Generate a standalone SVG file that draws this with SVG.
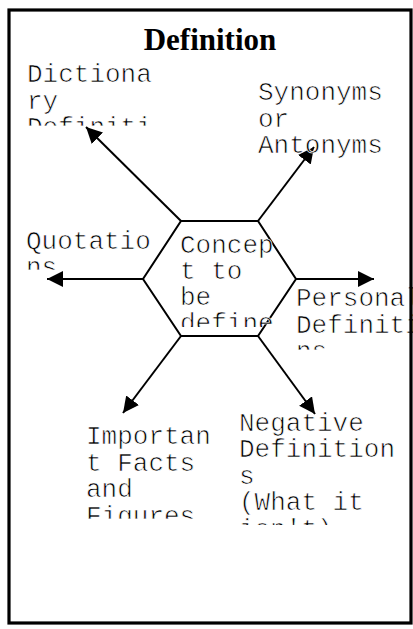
<svg xmlns="http://www.w3.org/2000/svg" width="413" height="629" viewBox="0 0 413 629">
<style>
.t{font-family:"Liberation Mono","Courier New",monospace;font-size:26px;fill:#000;stroke:#fff;stroke-width:0.7}
.ttl{font-family:"Liberation Serif","Times New Roman",serif;font-size:31px;font-weight:bold;fill:#000}
.c{stroke:#000;stroke-width:2;fill:none}
</style>
<defs>
<marker id="ah" markerUnits="userSpaceOnUse" markerWidth="17" markerHeight="17" refX="16" refY="8" orient="auto">
<path d="M0,0 L16,8 L0,16 z" fill="#000"/>
</marker>
<clipPath id="cDict"><rect x="0" y="55" width="413" height="70.5"/></clipPath>
<clipPath id="cQuot"><rect x="0" y="220" width="413" height="49.5"/></clipPath>
<clipPath id="cConc"><rect x="0" y="225" width="413" height="102"/></clipPath>
<clipPath id="cPers"><rect x="0" y="280" width="413" height="69.5"/></clipPath>
<clipPath id="cImp"><rect x="0" y="415" width="413" height="103.5"/></clipPath>
<clipPath id="cNeg"><rect x="0" y="405" width="413" height="120"/></clipPath>
</defs>
<rect x="0" y="0" width="413" height="629" fill="#fff"/>
<g id="connectors">
<line class="c" x1="181" y1="221" x2="86" y2="127" marker-end="url(#ah)"/>
<line class="c" x1="258" y1="221" x2="314" y2="147" marker-end="url(#ah)"/>
<line class="c" x1="143" y1="279" x2="47" y2="279" marker-end="url(#ah)"/>
<line class="c" x1="296" y1="279" x2="374" y2="279" marker-end="url(#ah)"/>
<line class="c" x1="181" y1="336" x2="123" y2="413" marker-end="url(#ah)"/>
<line class="c" x1="258" y1="336" x2="315" y2="414" marker-end="url(#ah)"/>
</g>
<g id="title"><text class="ttl" x="210" y="49.5" text-anchor="middle">Definition</text></g>
<g id="concept">
<polygon class="c" points="181,221 258,221 296,279 258,336 181,336 143,279"/>
<text class="t" clip-path="url(#cConc)"><tspan x="180" y="252.5">Concep</tspan><tspan x="180" y="278.5">t to</tspan><tspan x="180" y="304.5">be</tspan><tspan x="180" y="330.5">define</tspan></text>
</g>
<g id="dictionary">
<text class="t" clip-path="url(#cDict)"><tspan x="27" y="82">Dictiona</tspan><tspan x="27" y="108.5">ry</tspan><tspan x="27" y="135">Definiti</tspan></text>
</g>
<g id="synonyms">
<text class="t"><tspan x="258" y="100">Synonyms</tspan><tspan x="258" y="126.5">or</tspan><tspan x="258" y="153">Antonyms</tspan></text>
</g>
<g id="quotations">
<text class="t" clip-path="url(#cQuot)"><tspan x="26" y="248.5">Quotatio</tspan><tspan x="26" y="275">ns</tspan></text>
</g>
<g id="personal">
<text class="t" clip-path="url(#cPers)"><tspan x="296" y="306">Personal</tspan><tspan x="296" y="332.5">Definitio</tspan><tspan x="296" y="359">ns</tspan></text>
</g>
<g id="important">
<text class="t" clip-path="url(#cImp)"><tspan x="86" y="444">Importan</tspan><tspan x="86" y="470.5">t Facts</tspan><tspan x="86" y="497">and</tspan><tspan x="86" y="523.5">Figures</tspan></text>
</g>
<g id="negative">
<text class="t" clip-path="url(#cNeg)"><tspan x="239" y="430.5">Negative</tspan><tspan x="239" y="457">Definition</tspan><tspan x="239" y="483.5">s</tspan><tspan x="239" y="510">(What it</tspan><tspan x="239" y="536.5">isn't)</tspan></text>
</g>
<rect x="9" y="10" width="402" height="613" fill="none" stroke="#000" stroke-width="3.2"/>
</svg>
